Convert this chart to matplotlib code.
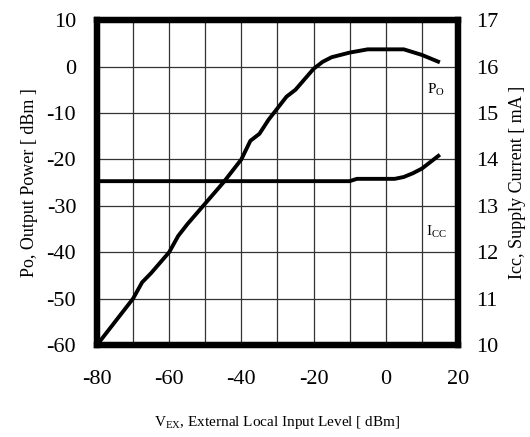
import matplotlib
matplotlib.use("Agg")
import matplotlib.pyplot as plt

plt.rcParams['font.family'] = ['Liberation Serif', 'DejaVu Serif']
plt.rcParams['axes.unicode_minus'] = False

# input level (dBm) vs output power (dBm)
vex_po = [-80, -75, -70, -67.5, -65, -60, -57.5, -55, -50, -45, -40, -37.5, -35,
          -32.5, -30, -27.5, -25, -20, -17.5, -15, -10, -5, 0, 5, 10, 15]
po = [-60, -55, -50, -46.5, -44.5, -40, -36.5, -34, -29.5, -25, -20, -16, -14.5,
      -11.5, -9, -6.5, -5, -0.5, 1, 2, 3, 3.7, 3.7, 3.7, 2.5, 0.9]

# input level (dBm) vs supply current (mA)
vex_icc = [-80, -10, -8, 0, 2.5, 5, 7.5, 10, 12.5, 15]
icc = [13.53, 13.53, 13.58, 13.58, 13.58, 13.62, 13.7, 13.8, 13.95, 14.1]

x_ticks = [-80, -60, -40, -20, 0, 20]
po_ticks = [-60, -50, -40, -30, -20, -10, 0, 10]
icc_ticks = [10, 11, 12, 13, 14, 15, 16, 17]

fig = plt.figure(figsize=(5.3, 4.37), dpi=100)
ax = fig.add_axes([0.183, 0.2105, 0.681, 0.7435])
ax2 = ax.twinx()

ax.plot(vex_po, po, color='black', lw=2.8, solid_capstyle='butt', zorder=3)
ax2.plot(vex_icc, icc, color='black', lw=2.8, solid_capstyle='butt', zorder=3)

ax.set_xlim(-80, 20)
ax.set_ylim(-60, 10)
ax2.set_ylim(10, 17)
grid_x = list(range(-80, 21, 10))
ax.set_xticks(grid_x)
ax.set_xticklabels([str(t) if t in x_ticks else '' for t in grid_x])
ax.set_yticks(po_ticks)
ax2.set_yticks(icc_ticks)

ax.grid(True, color='#333333', lw=0.9)
ax.tick_params(length=0, labelsize=16, pad=15)
ax.tick_params(axis='x', pad=18)
ax2.tick_params(length=0, labelsize=16, pad=13)

for a in (ax, ax2):
    for s in a.spines.values():
        s.set_linewidth(4.5)
        s.set_color('black')

ax.set_ylabel('Po, Output Power [ dBm ]', fontsize=13, labelpad=6)
ax2.set_ylabel('Icc, Supply Current [ mA ]', fontsize=13, labelpad=8)
ax.set_xlabel(r'V$_{\mathregular{EX}}$, External Local Input Level [ dBm]',
              fontsize=11, labelpad=18)

ax.text(0.94, 0.785, r'P$_{\mathregular{O}}$', transform=ax.transAxes,
        fontsize=11, ha='center', va='center')
ax.text(0.94, 0.35, r'I$_{\mathregular{CC}}$', transform=ax.transAxes,
        fontsize=11, ha='center', va='center', zorder=5,
        bbox=dict(facecolor='white', edgecolor='none', pad=1))

fig.savefig('out.png', dpi=100)
